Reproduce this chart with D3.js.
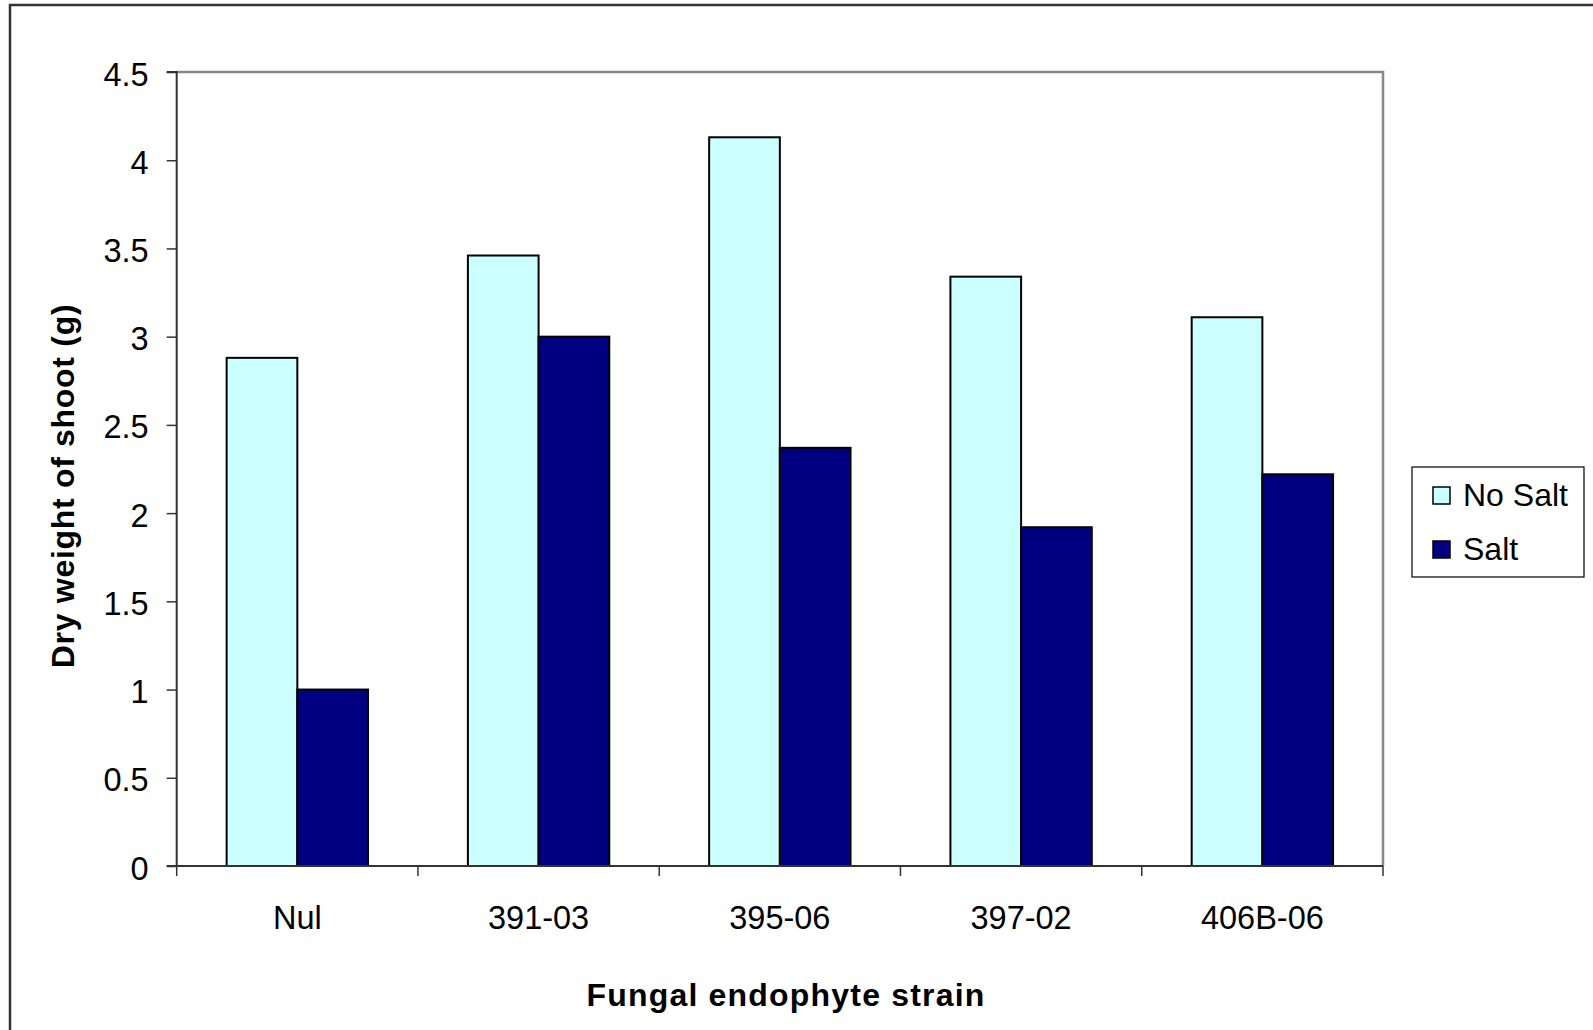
<!DOCTYPE html>
<html><head><meta charset="utf-8">
<script src="https://cdn.jsdelivr.net/npm/d3@7"></script>
<style>html,body{margin:0;padding:0;background:#fff;}svg{display:block;}</style>
</head><body>
<svg id="chart" width="1593" height="1030"></svg>
<script>
const categories = ["Nul", "391-03", "395-06", "397-02", "406B-06"];
const seriesNames = ["No Salt", "Salt"];
const noSalt = [2.88, 3.46, 4.13, 3.34, 3.11];
const salt = [1.0, 3.0, 2.37, 1.92, 2.22];
const yTicks = [0, 0.5, 1, 1.5, 2, 2.5, 3, 3.5, 4, 4.5];
const colors = ["#CCFFFF", "#000080"];
const yTitle = "Dry weight of shoot (g)";
const xTitle = "Fungal endophyte strain";

const svg = d3.select("#chart");
const font = "Liberation Sans, Arial, sans-serif";
const L = 176.7, R = 1383, T = 72, B = 866;

// outer border
svg.append("rect").attr("x", 10).attr("y", 5).attr("width", 1600).attr("height", 1040)
  .attr("fill", "none").attr("stroke", "#333").attr("stroke-width", 2.5);

const x0 = d3.scaleBand().domain(categories).range([L, R]).padding(0);
const bw = x0.bandwidth();
const x1 = d3.scaleBand().domain(seriesNames).range([bw * 0.207, bw * 0.793]).padding(0);
const y = d3.scaleLinear().domain([0, 4.5]).range([B, T]);

// plot frame top/right
svg.append("path").attr("d", `M${L},${T}H${R}V${B}`).attr("fill", "none")
  .attr("stroke", "#888").attr("stroke-width", 2.5);

const data = categories.map((c, i) => ({cat: c, vals: [noSalt[i], salt[i]]}));
const g = svg.append("g");
g.selectAll("g.grp").data(data).join("g").attr("class", "grp")
  .attr("transform", d => `translate(${x0(d.cat)},0)`)
  .selectAll("rect").data(d => d.vals.map((v, j) => ({s: seriesNames[j], v, j})))
  .join("rect")
  .attr("x", d => x1(d.s)).attr("width", x1.bandwidth())
  .attr("y", d => y(d.v)).attr("height", d => y(0) - y(d.v))
  .attr("fill", d => colors[d.j]).attr("stroke", "#000").attr("stroke-width", 2);

// y axis
const yAxis = d3.axisLeft(y).tickValues(yTicks).tickSize(10).tickPadding(18)
  .tickFormat(d => String(d));
const ya = svg.append("g").attr("transform", `translate(${L},0)`).call(yAxis);
ya.select(".domain").attr("stroke", "#333").attr("stroke-width", 2).attr("d", `M-10,${T}H0V${B}H-10`);
ya.selectAll(".tick line").attr("stroke", "#333").attr("stroke-width", 1.5);
ya.selectAll(".tick text").attr("font-family", font).attr("font-size", 32.5).attr("fill", "#000")
  .attr("dy", "0.4em");

// x axis
const xa = svg.append("g").attr("transform", `translate(0,${B})`);
xa.append("line").attr("x1", L).attr("x2", R).attr("y1", 0).attr("y2", 0)
  .attr("stroke", "#333").attr("stroke-width", 2);
const bounds = categories.map(c => x0(c)).concat([R]);
xa.selectAll("line.tk").data(bounds).join("line").attr("class", "tk")
  .attr("x1", d => d).attr("x2", d => d).attr("y1", 0).attr("y2", 10)
  .attr("stroke", "#333").attr("stroke-width", 1.5);
xa.selectAll("text").data(categories).join("text")
  .attr("x", d => x0(d) + bw / 2).attr("y", 63)
  .attr("text-anchor", "middle").attr("font-family", font).attr("font-size", 32.5)
  .text(d => d);

// axis titles
svg.append("text").attr("transform", `translate(74,486) rotate(-90)`)
  .attr("text-anchor", "middle").attr("font-family", font).attr("font-weight", "bold")
  .attr("font-size", 32).attr("letter-spacing", 0.7).text(yTitle);
svg.append("text").attr("x", 786).attr("y", 1006)
  .attr("text-anchor", "middle").attr("font-family", font).attr("font-weight", "bold")
  .attr("font-size", 32).attr("letter-spacing", 1.2).text(xTitle);

// legend
const lg = svg.append("g");
lg.append("rect").attr("x", 1412).attr("y", 467).attr("width", 172).attr("height", 110)
  .attr("fill", "#fff").attr("stroke", "#000").attr("stroke-width", 1.2);
const li = lg.selectAll("g.li").data(seriesNames).join("g").attr("class", "li")
  .attr("transform", (d, i) => `translate(1433,${487 + i * 54})`);
li.append("rect").attr("width", 17).attr("height", 17)
  .attr("fill", (d, i) => colors[i]).attr("stroke", "#000").attr("stroke-width", 1.5);
li.append("text").attr("x", 30).attr("y", 19).attr("font-family", font)
  .attr("font-size", 32).text(d => d);
</script>
</body></html>
